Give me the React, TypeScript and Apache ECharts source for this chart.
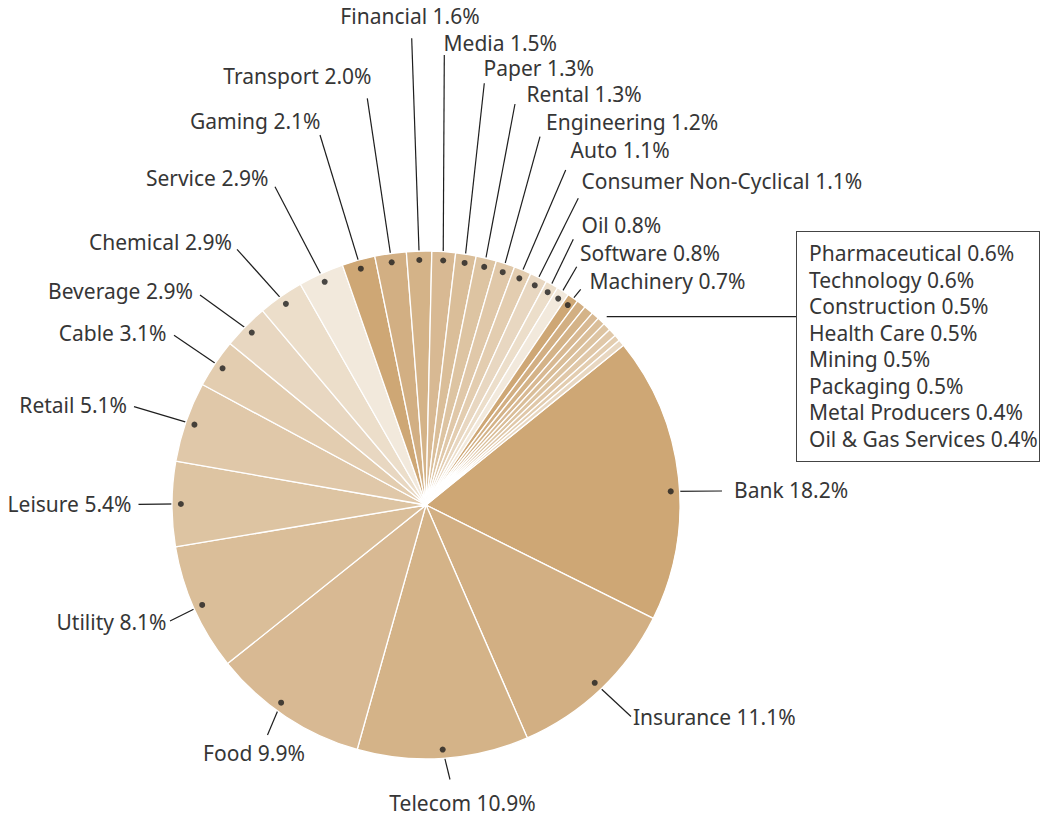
import React, { useEffect, useRef } from 'react';
import * as echarts from 'echarts';

// ---------- data ----------
const CATEGORIES = [
  'Bank', 'Insurance', 'Telecom', 'Food', 'Utility', 'Leisure', 'Retail', 'Cable',
  'Beverage', 'Chemical', 'Service', 'Gaming', 'Transport', 'Financial', 'Media',
  'Paper', 'Rental', 'Engineering', 'Auto', 'Consumer Non-Cyclical', 'Oil', 'Software',
  'Machinery', 'Pharmaceutical', 'Technology', 'Construction', 'Health Care', 'Mining',
  'Packaging', 'Metal Producers', 'Oil & Gas Services',
];
const WEIGHTS = [
  18.2, 11.1, 10.9, 9.9, 8.1, 5.4, 5.1, 3.1, 2.9, 2.9, 2.9, 2.1, 2.0, 1.6, 1.5,
  1.3, 1.3, 1.2, 1.1, 1.1, 0.8, 0.8, 0.7, 0.6, 0.6, 0.5, 0.5, 0.5, 0.5, 0.4, 0.4,
];
// slices from this category on are listed together in a framed box
const BOXED_FROM = 'Pharmaceutical';

// ---------- style / layout ----------
const PALETTE = [
  '#cea775', '#d2af83', '#d4b388', '#d8b993', '#dabe99', '#ddc4a2',
  '#e0c8a9', '#e3cdb0', '#e8d7c1', '#ecdeca', '#f2e9dc',
];
const FONT = '"Noto Sans", "Open Sans", sans-serif';
const FONT_SIZE = 21;
const TEXT_COLOR = '#363636';
const LINE_COLOR = '#1e1e1e';
const CX = 426;
const CY = 505;
const R = 254;
const START = 39;
const DOT_R = 0.965;
const GROUP_DOT_R = 1.028;
const DOT_NUDGE: Record<string, number> = { Bank: 0.85, Food: 0.75 };

// [textX, textY, align, lineEndX, lineEndY]
const LABEL_LAYOUT: [number, number, string, number, number][] = [
  [734, 490, 'left', 722, 491],
  [633, 717, 'left', 631, 716.5],
  [462.5, 803, 'center', 450, 779.5],
  [254, 752.5, 'center', 267.5, 735],
  [166.5, 622, 'right', 170, 621],
  [131.5, 503.5, 'right', 138.5, 504.3],
  [127, 405, 'right', 134, 406.7],
  [166.5, 333, 'right', 174, 335.3],
  [193, 291, 'right', 200, 295],
  [232, 241.5, 'right', 237, 249.3],
  [268.5, 177.5, 'right', 275, 186.7],
  [320.5, 121, 'right', 320, 135],
  [371.5, 75.5, 'right', 367.3, 98.3],
  [410, 16, 'center', 411.7, 38.3],
  [443.5, 42.5, 'left', 444.3, 55],
  [483.5, 68, 'left', 484.3, 83.3],
  [526.5, 93.5, 'left', 515, 104],
  [546, 121.5, 'left', 540, 136.7],
  [570.5, 150, 'left', 565.7, 170],
  [581.5, 180.5, 'left', 578.3, 198.3],
  [581.5, 225, 'left', 573.3, 239.3],
  [580, 253, 'left', 576.7, 266.7],
  [589.5, 280.5, 'left', 580.7, 289.3],
];
const BOX_X = 797;
const BOX_Y = 232;
const BOX_LINE_Y = 316.7;

export default function App() {
  const ref = useRef<HTMLDivElement>(null);

  useEffect(() => {
    if (!ref.current) return;
    const chart = echarts.init(ref.current, undefined, { renderer: 'svg' });

    const total = WEIGHTS.reduce((a, b) => a + b, 0);
    const cum: number[] = [];
    let acc = 0;
    WEIGHTS.forEach((w) => {
      cum.push(acc);
      acc += w;
    });
    const boxIdx = CATEGORIES.indexOf(BOXED_FROM);
    const midPct = WEIGHTS.map(
      (w, i) => ((cum[i] + w / 2) / total) * 100 + (DOT_NUDGE[CATEGORIES[i]] || 0)
    );
    const groupPct = ((cum[boxIdx] + total) / 2 / total) * 100;

    const toXY = (r: number, pct: number): [number, number] => {
      const a = ((START - pct * 3.6) * Math.PI) / 180;
      return [CX + r * R * Math.cos(a), CY - r * R * Math.sin(a)];
    };

    const dots: [number, number][] = [];
    for (let i = 0; i < boxIdx; i++) dots.push([DOT_R, midPct[i]]);
    dots.push([GROUP_DOT_R, groupPct]);

    const groupText = CATEGORIES.slice(boxIdx)
      .map((n, k) => `${n} ${WEIGHTS[boxIdx + k].toFixed(1)}%`)
      .join('\n');

    const pieData = CATEGORIES.map((name, i) => {
      const item: any = {
        name,
        value: WEIGHTS[i],
        itemStyle: { color: PALETTE[i % PALETTE.length] },
      };
      if (i > boxIdx) {
        item.label = { show: false };
        item.labelLine = { show: false };
      }
      if (i === boxIdx) {
        item.label = {
          width: 230,
          overflow: 'none',
          lineHeight: 26.5,
          padding: [8, 0, 9, 12],
          borderColor: '#444444',
          borderWidth: 1,
          backgroundColor: '#ffffff',
        };
      }
      return item;
    });

    chart.setOption({
      animation: false,
      backgroundColor: '#ffffff',
      polar: { center: [CX, CY], radius: R },
      angleAxis: {
        type: 'value',
        min: 0,
        max: 100,
        startAngle: START,
        clockwise: true,
        show: false,
      },
      radiusAxis: { type: 'value', min: 0, max: 1, show: false },
      series: [
        {
          type: 'pie',
          center: [CX, CY],
          radius: R,
          startAngle: START,
          clockwise: true,
          avoidLabelOverlap: false,
          data: pieData,
          itemStyle: { borderColor: '#ffffff', borderWidth: 1.3 },
          emphasis: { disabled: true },
          label: {
            show: true,
            position: 'outside',
            fontFamily: FONT,
            fontSize: FONT_SIZE,
            lineHeight: 22,
            color: TEXT_COLOR,
            formatter: (p: any) =>
              p.dataIndex === boxIdx ? groupText : `${p.name} ${Number(p.value).toFixed(1)}%`,
          },
          labelLine: {
            show: true,
            length: 10,
            length2: 10,
            lineStyle: { color: LINE_COLOR, width: 1.2 },
          },
          labelLayout: (p: any) => {
            const i = p.dataIndex;
            if (i === boxIdx) {
              const d = toXY(GROUP_DOT_R, groupPct);
              return {
                x: BOX_X,
                y: BOX_Y,
                align: 'left',
                verticalAlign: 'top',
                labelLinePoints: [d, [BOX_X, BOX_LINE_Y], [BOX_X, BOX_LINE_Y]],
              };
            }
            const L = LABEL_LAYOUT[i];
            if (!L) return {};
            const d = toXY(DOT_R, midPct[i]);
            return {
              x: L[0],
              y: L[1],
              align: L[2],
              verticalAlign: 'middle',
              labelLinePoints: [d, [L[3], L[4]], [L[3], L[4]]],
            };
          },
        },
        {
          type: 'scatter',
          coordinateSystem: 'polar',
          data: dots,
          symbol: 'circle',
          symbolSize: 6,
          itemStyle: { color: LINE_COLOR },
          z: 10,
          silent: true,
        },
      ],
    });

    return () => chart.dispose();
  }, []);

  return (
    <div
      ref={ref}
      style={{ position: 'fixed', left: 0, top: 0, width: 1041, height: 818 }}
    />
  );
}
